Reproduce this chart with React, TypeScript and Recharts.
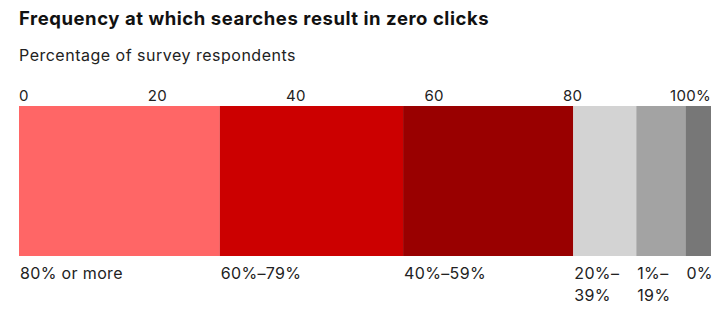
import React from "react";
import { BarChart, Bar, XAxis, YAxis, LabelList } from "recharts";

const categories = ["80% or more", "60%–79%", "40%–59%", "20%–39%", "1%–19%", "0%"];
const seriesKeys = ["s80", "s60", "s40", "s20", "s1", "s0"];
const values = [29.0, 26.5, 24.6, 9.1, 7.1, 3.7];
const colors = ["#ff6666", "#cc0000", "#990000", "#d3d3d3", "#a3a3a3", "#777777"];
const ticks = [0, 20, 40, 60, 80, 100];

const row: Record<string, number | string> = { name: "all" };
seriesKeys.forEach((k, i) => {
  row[k] = values[i];
});
const data = [row];

const FONT = "Inter, 'Noto Sans', sans-serif";

const AxisTick = (props: any) => {
  const { x, y, payload } = props;
  const v = payload.value;
  const anchor = v === 0 ? "start" : v === 100 ? "end" : "middle";
  const label = v === 100 ? "100%" : String(v);
  return (
    <text x={x} y={y} textAnchor={anchor} fontSize={15} fill="#222" fontFamily={FONT} letterSpacing={0.3}>
      {label}
    </text>
  );
};

const makeLabel = (text: string) => (props: any) => {
  const { x, y, width, height } = props;
  const base = y + height + 23;
  const approx = text.length * 9;
  const lines =
    approx > width - 4 && text.includes("–")
      ? [text.slice(0, text.indexOf("–") + 1), text.slice(text.indexOf("–") + 1)]
      : [text];
  return (
    <text x={x + 1} y={base} fontSize={16} fill="#222" fontFamily={FONT} letterSpacing={0.35}>
      {lines.map((l, i) => (
        <tspan key={i} x={x + 1} dy={i === 0 ? 0 : 22}>
          {l}
        </tspan>
      ))}
    </text>
  );
};

export default function App() {
  return (
    <div style={{ position: "absolute", left: 0, top: 0, width: 728, height: 309, background: "#fff", fontFamily: FONT }}>
      <div
        style={{
          position: "absolute",
          left: 19,
          top: 7,
          fontSize: 18.5,
          fontWeight: 700,
          color: "#111",
          whiteSpace: "nowrap",
          letterSpacing: 0.55,
        }}
      >
        Frequency at which searches result in zero clicks
      </div>
      <div
        style={{
          position: "absolute",
          left: 19,
          top: 45,
          fontSize: 16,
          color: "#222",
          whiteSpace: "nowrap",
          letterSpacing: 0.5,
        }}
      >
        Percentage of survey respondents
      </div>
      <div style={{ position: "absolute", left: 0, top: 0 }}>
        <BarChart
          width={728}
          height={309}
          data={data}
          layout="vertical"
          margin={{ top: 76, right: 17, bottom: 53, left: 19 }}
          barCategoryGap={0}
        >
          <XAxis
            type="number"
            orientation="top"
            domain={[0, 100]}
            ticks={ticks}
            axisLine={false}
            tickLine={false}
            tickSize={0}
            tickMargin={5}
            height={30}
            tick={<AxisTick />}
            interval={0}
          />
          <YAxis type="category" dataKey="name" hide />
          {seriesKeys.map((k, i) => (
            <Bar key={k} dataKey={k} stackId="a" fill={colors[i]} isAnimationActive={false}>
              <LabelList dataKey={k} content={makeLabel(categories[i])} />
            </Bar>
          ))}
        </BarChart>
      </div>
    </div>
  );
}
